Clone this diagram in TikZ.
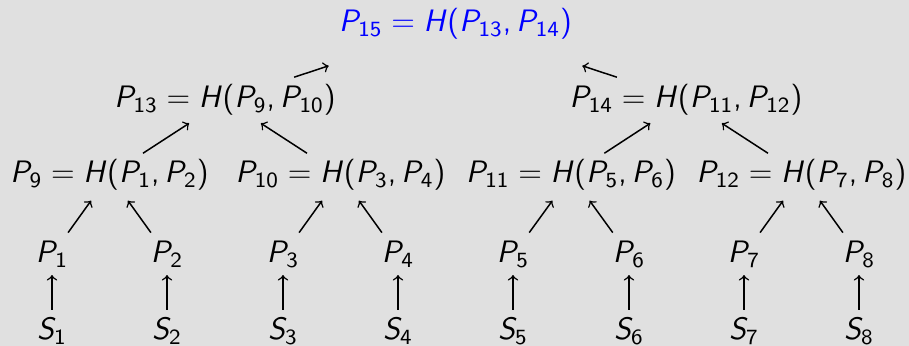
\documentclass[tikz,border=0pt]{standalone}
\usepackage{fix-cm}
\usetikzlibrary{calc}
% sans-serif math, as on the slides
\DeclareSymbolFont{sfletters}{OT1}{cmss}{m}{sl}
\SetSymbolFont{operators}{normal}{OT1}{cmss}{m}{n}
\DeclareMathSymbol{P}{\mathalpha}{sfletters}{`P}
\DeclareMathSymbol{H}{\mathalpha}{sfletters}{`H}
\DeclareMathSymbol{S}{\mathalpha}{sfletters}{`S}
\DeclareMathSymbol{,}{\mathpunct}{operators}{`,}
\definecolor{bggray}{RGB}{224,224,224}
\tikzset{
  hashnode/.style={inner sep=0pt, text height=9pt, text depth=2.6pt,
    font=\fontsize{12.4}{14}\selectfont},
  up/.style={->, line width=0.6pt},
}
\begin{document}
\begin{tikzpicture}[x=0.4pt, y=-0.4pt]
\fill[bggray] (0,0) rectangle (909,346);
\useasboundingbox (0,0) rectangle (909,346);
% root
\node[hashnode, text=blue] (p15) at (455.5,24) {$P_{15}=H(P_{13},P_{14})$};
% second level
\node[hashnode] (p13) at (225,100) {$P_{13}=H(P_{9},P_{10})$};
\node[hashnode] (p14) at (686,100) {$P_{14}=H(P_{11},P_{12})$};
% third level
\node[hashnode] (p9) at (109.5,175) {$P_{9}=H(P_{1},P_{2})$};
\node[hashnode] (p10) at (340.5,175) {$P_{10}=H(P_{3},P_{4})$};
\node[hashnode] (p11) at (571,175) {$P_{11}=H(P_{5},P_{6})$};
\node[hashnode] (p12) at (801.5,175) {$P_{12}=H(P_{7},P_{8})$};
% leaves
\node[hashnode] (p1) at (52,255) {$P_{1}$};
\node[hashnode] (p2) at (167,255) {$P_{2}$};
\node[hashnode] (p3) at (283,255) {$P_{3}$};
\node[hashnode] (p4) at (398,255) {$P_{4}$};
\node[hashnode] (p5) at (513,255) {$P_{5}$};
\node[hashnode] (p6) at (629,255) {$P_{6}$};
\node[hashnode] (p7) at (744,255) {$P_{7}$};
\node[hashnode] (p8) at (859,255) {$P_{8}$};
% inputs
\node[hashnode] (s1) at (52,332) {$S_{1}$};
\node[hashnode] (s2) at (167,332) {$S_{2}$};
\node[hashnode] (s3) at (283,332) {$S_{3}$};
\node[hashnode] (s4) at (398,332) {$S_{4}$};
\node[hashnode] (s5) at (513,332) {$S_{5}$};
\node[hashnode] (s6) at (629,332) {$S_{6}$};
\node[hashnode] (s7) at (744,332) {$S_{7}$};
\node[hashnode] (s8) at (859,332) {$S_{8}$};
% S -> P
\draw[up] ($(s1)!.29!(p1)$) -- ($(s1)!.74!(p1)$);
\draw[up] ($(s2)!.29!(p2)$) -- ($(s2)!.74!(p2)$);
\draw[up] ($(s3)!.29!(p3)$) -- ($(s3)!.74!(p3)$);
\draw[up] ($(s4)!.29!(p4)$) -- ($(s4)!.74!(p4)$);
\draw[up] ($(s5)!.29!(p5)$) -- ($(s5)!.74!(p5)$);
\draw[up] ($(s6)!.29!(p6)$) -- ($(s6)!.74!(p6)$);
\draw[up] ($(s7)!.29!(p7)$) -- ($(s7)!.74!(p7)$);
\draw[up] ($(s8)!.29!(p8)$) -- ($(s8)!.74!(p8)$);
% leaves -> third level
\draw[up] ($(p1)!.28!(p9)$) -- ($(p1)!.68!(p9)$);
\draw[up] ($(p2)!.28!(p9)$) -- ($(p2)!.68!(p9)$);
\draw[up] ($(p3)!.28!(p10)$) -- ($(p3)!.68!(p10)$);
\draw[up] ($(p4)!.28!(p10)$) -- ($(p4)!.68!(p10)$);
\draw[up] ($(p5)!.28!(p11)$) -- ($(p5)!.68!(p11)$);
\draw[up] ($(p6)!.28!(p11)$) -- ($(p6)!.68!(p11)$);
\draw[up] ($(p7)!.28!(p12)$) -- ($(p7)!.68!(p12)$);
\draw[up] ($(p8)!.28!(p12)$) -- ($(p8)!.68!(p12)$);
% third level -> second level
\draw[up] ($(p9)!.29!(p13)$) -- ($(p9)!.69!(p13)$);
\draw[up] ($(p10)!.29!(p13)$) -- ($(p10)!.69!(p13)$);
\draw[up] ($(p11)!.29!(p14)$) -- ($(p11)!.69!(p14)$);
\draw[up] ($(p12)!.29!(p14)$) -- ($(p12)!.69!(p14)$);
% second level -> root
\draw[up] ($(p13)!.30!(p15)$) -- ($(p13)!.45!(p15)$);
\draw[up] ($(p14)!.30!(p15)$) -- ($(p14)!.45!(p15)$);
\end{tikzpicture}
\end{document}
